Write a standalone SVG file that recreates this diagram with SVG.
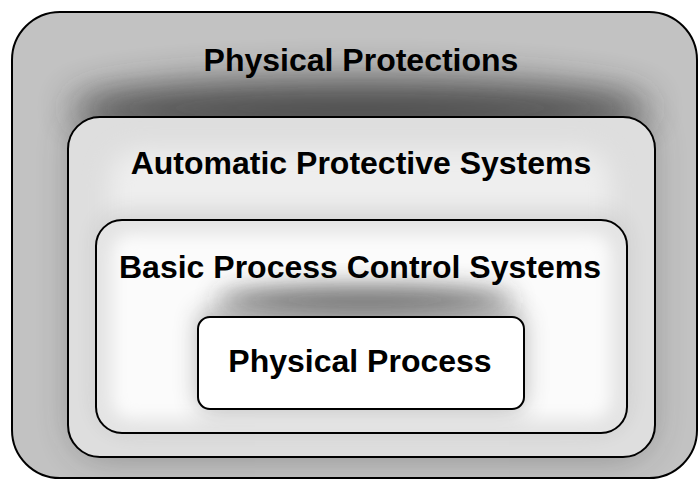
<svg xmlns="http://www.w3.org/2000/svg" width="700" height="481" viewBox="0 0 700 481">
  <style>
    .frame { stroke: #000; stroke-width: 2; fill: none; }
    .label { font-family: "Liberation Sans", Arial, Helvetica, sans-serif; font-weight: bold; font-size: 32px; fill: #000; text-anchor: middle; }
    .shade { fill: #333; }
  </style>
  <defs>
    <filter id="blur-l" x="-40%" y="-80%" width="180%" height="260%">
      <feGaussianBlur stdDeviation="18"/>
    </filter>
    <filter id="blur-m" x="-40%" y="-80%" width="180%" height="260%">
      <feGaussianBlur stdDeviation="12"/>
    </filter>
    <filter id="blur-s" x="-40%" y="-80%" width="180%" height="260%">
      <feGaussianBlur stdDeviation="8"/>
    </filter>
    <clipPath id="clip-outer"><rect x="12" y="12" width="685" height="466" rx="48"/></clipPath>
    <clipPath id="clip-aps"><rect x="68" y="117" width="587" height="340" rx="32"/></clipPath>
    <clipPath id="clip-bpcs"><rect x="96" y="220" width="531" height="213" rx="26"/></clipPath>
  </defs>

  <!-- outermost layer: grey band with a dark glow along the top -->
  <g id="physical-protections">
    <rect x="12" y="12" width="685" height="466" rx="48" fill="#c2c2c2"/>
    <g clip-path="url(#clip-outer)">
      <rect class="shade" x="74" y="110" width="575" height="345" rx="32" filter="url(#blur-l)" opacity="0.4"/>
      <ellipse class="shade" cx="360" cy="108" rx="290" ry="30" filter="url(#blur-l)" opacity="0.75"/>
    </g>
    <rect class="frame" x="12" y="12" width="685" height="466" rx="48"/>
    <text class="label" x="361" y="71">Physical Protections</text>
  </g>

  <!-- second layer -->
  <g id="automatic-protective-systems">
    <rect x="68" y="117" width="587" height="340" rx="32" fill="#dedede"/>
    <g clip-path="url(#clip-aps)">
      <rect x="110" y="150" width="500" height="270" rx="30" fill="#eeeeee" filter="url(#blur-m)"/>
      <rect class="shade" x="100" y="214" width="524" height="214" rx="26" filter="url(#blur-m)" opacity="0.15"/>
    </g>
    <rect class="frame" x="68" y="117" width="587" height="340" rx="32"/>
    <text class="label" x="361" y="174">Automatic Protective Systems</text>
  </g>

  <!-- third layer: light panel with a dark smudge above the core -->
  <g id="basic-process-control-systems">
    <rect x="96" y="220" width="531" height="213" rx="26" fill="#e4e4e4"/>
    <g clip-path="url(#clip-bpcs)">
      <rect x="112" y="234" width="499" height="185" rx="20" fill="#fbfbfb" filter="url(#blur-s)"/>
      <rect class="shade" x="198" y="310" width="326" height="100" rx="12" filter="url(#blur-m)" opacity="0.35"/>
      <ellipse class="shade" cx="365" cy="300" rx="150" ry="14" filter="url(#blur-m)" opacity="0.7"/>
    </g>
    <rect class="frame" x="96" y="220" width="531" height="213" rx="26"/>
    <text class="label" x="360" y="278">Basic Process Control Systems</text>
  </g>

  <!-- innermost layer -->
  <g id="physical-process">
    <rect x="198" y="317" width="326" height="92" rx="12" fill="#fff"/>
    <rect class="frame" x="198" y="317" width="326" height="92" rx="12"/>
    <text class="label" x="360" y="372">Physical Process</text>
  </g>
</svg>
